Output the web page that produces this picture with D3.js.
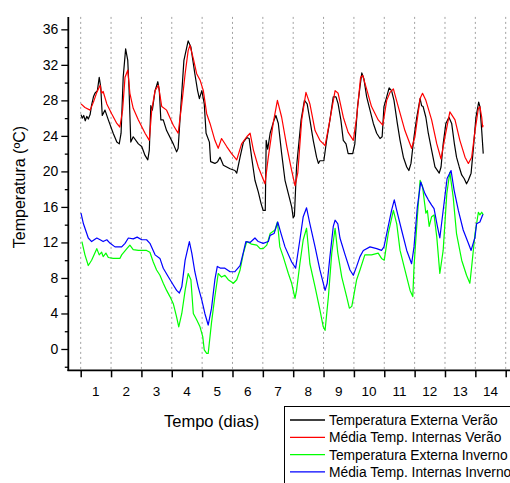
<!DOCTYPE html>
<html>
<head>
<meta charset="utf-8">
<script src="https://cdn.jsdelivr.net/npm/d3@7/dist/d3.min.js"></script>
<style>
  html, body { margin: 0; padding: 0; background: #fff; }
  svg { display: block; font-family: "Liberation Sans", Arial, sans-serif; }
</style>
</head>
<body>
<svg id="chart" width="510" height="483"></svg>
<script>
// ---- Data (day, temperature °C) ----
const extVerao = [[0.01,26.4],[0.05,26.0],[0.10,26.3],[0.15,25.7],[0.20,26.2],[0.25,25.9],[0.31,26.4],[0.36,27.5],[0.42,28.4],[0.47,28.8],[0.55,29.1],[0.61,30.6],[0.66,29.5],[0.71,26.3],[0.80,26.9],[0.91,25.8],[1.07,24.3],[1.19,23.3],[1.27,23.1],[1.33,24.3],[1.40,30.6],[1.48,33.8],[1.55,32.5],[1.59,29.5],[1.65,23.3],[1.73,23.9],[1.90,23.1],[2.01,22.8],[2.12,21.8],[2.21,21.3],[2.26,22.4],[2.31,27.4],[2.36,26.9],[2.45,29.1],[2.54,30.1],[2.59,29.1],[2.64,25.8],[2.72,25.8],[2.83,24.6],[3.05,23.1],[3.16,22.2],[3.21,22.6],[3.27,25.8],[3.40,32.5],[3.54,34.7],[3.63,34.0],[3.76,31.0],[3.85,29.1],[3.91,28.2],[3.99,29.1],[4.07,27.6],[4.13,24.3],[4.24,23.3],[4.28,21.1],[4.42,20.9],[4.51,21.1],[4.59,21.6],[4.70,20.7],[4.92,20.3],[5.08,20.1],[5.14,19.8],[5.25,21.6],[5.36,23.3],[5.47,23.8],[5.55,23.7],[5.63,21.6],[5.74,19.0],[5.85,17.7],[5.94,16.4],[6.01,15.6],[6.08,15.6],[6.11,23.5],[6.16,22.5],[6.24,24.3],[6.37,25.8],[6.43,26.3],[6.51,25.4],[6.62,22.0],[6.73,19.0],[6.84,17.5],[6.95,16.0],[7.00,14.8],[7.04,15.0],[7.11,20.5],[7.26,25.8],[7.37,28.0],[7.46,27.6],[7.55,25.8],[7.66,23.5],[7.77,21.6],[7.83,20.9],[7.88,21.2],[8.01,21.2],[8.10,23.5],[8.21,25.8],[8.32,28.4],[8.41,28.4],[8.48,27.6],[8.57,25.8],[8.65,23.5],[8.74,23.1],[8.81,22.0],[8.96,22.0],[9.03,23.1],[9.12,27.3],[9.20,29.5],[9.26,31.1],[9.33,30.4],[9.42,28.4],[9.53,26.9],[9.64,25.4],[9.75,24.3],[9.86,23.7],[9.93,23.9],[9.99,27.3],[10.08,28.4],[10.16,29.4],[10.24,29.1],[10.32,28.0],[10.43,25.4],[10.52,23.5],[10.63,21.6],[10.74,20.5],[10.81,20.1],[10.88,20.9],[10.98,23.9],[11.07,26.1],[11.18,28.2],[11.23,27.4],[11.28,27.3],[11.37,26.1],[11.45,24.3],[11.56,22.4],[11.67,20.5],[11.81,19.8],[11.87,20.5],[11.94,23.1],[12.03,25.4],[12.13,26.1],[12.22,25.4],[12.31,23.1],[12.38,21.6],[12.47,20.5],[12.55,19.6],[12.63,19.2],[12.71,18.6],[12.77,19.0],[12.86,19.8],[12.93,22.4],[13.02,26.1],[13.11,27.8],[13.15,27.3],[13.21,24.6],[13.26,22.0]];

const intVerao = [[0.01,27.6],[0.14,27.2],[0.31,26.9],[0.42,27.8],[0.53,28.9],[0.64,29.7],[0.69,28.8],[0.74,29.0],[0.86,27.6],[1.02,26.5],[1.19,25.4],[1.29,25.0],[1.38,26.9],[1.46,30.6],[1.55,31.4],[1.62,28.8],[1.73,27.1],[1.90,25.8],[2.12,24.3],[2.26,23.5],[2.34,26.9],[2.45,29.1],[2.56,29.7],[2.67,27.3],[2.83,26.9],[3.05,25.2],[3.21,24.3],[3.33,27.6],[3.44,31.0],[3.54,33.6],[3.60,34.2],[3.71,32.7],[3.82,31.0],[3.93,30.3],[4.04,29.1],[4.15,26.5],[4.26,25.4],[4.42,23.5],[4.53,22.6],[4.64,23.7],[4.81,22.8],[4.97,22.0],[5.14,21.3],[5.30,23.1],[5.47,23.9],[5.58,24.3],[5.69,22.4],[5.85,20.5],[6.07,18.6],[6.18,21.6],[6.34,25.4],[6.48,28.0],[6.62,26.1],[6.79,22.8],[6.95,20.1],[7.06,18.4],[7.15,19.8],[7.28,25.8],[7.42,28.9],[7.55,27.6],[7.72,24.6],[7.88,23.5],[8.05,22.9],[8.21,25.8],[8.38,29.1],[8.48,28.8],[8.65,26.1],[8.81,24.4],[8.98,23.5],[9.09,26.1],[9.22,30.6],[9.29,30.8],[9.40,29.5],[9.58,27.3],[9.80,25.8],[9.95,25.2],[10.08,28.0],[10.19,28.9],[10.30,29.3],[10.46,27.3],[10.68,24.6],[10.90,22.6],[11.01,23.9],[11.18,28.2],[11.26,28.8],[11.37,28.0],[11.56,25.8],[11.73,23.1],[11.87,21.4],[12.00,23.9],[12.16,26.7],[12.33,25.8],[12.49,23.5],[12.66,21.6],[12.77,20.9],[12.88,21.6],[12.99,24.6],[13.10,27.1],[13.15,27.3],[13.21,26.1],[13.24,25.0],[13.26,25.2]];

const extInverno = [[0.04,12.1],[0.14,10.6],[0.25,9.4],[0.36,10.0],[0.53,11.3],[0.61,10.6],[0.69,10.9],[0.74,10.4],[0.83,10.8],[0.91,10.3],[1.07,10.2],[1.29,10.2],[1.35,10.6],[1.52,11.3],[1.62,11.7],[1.73,11.2],[1.90,11.1],[2.17,11.1],[2.28,10.9],[2.39,9.8],[2.50,8.9],[2.61,8.3],[2.72,7.4],[2.83,6.6],[2.94,5.9],[3.05,5.1],[3.16,3.6],[3.23,2.5],[3.33,4.0],[3.44,6.6],[3.54,8.5],[3.63,7.8],[3.71,4.0],[3.82,3.3],[3.93,2.5],[4.02,1.4],[4.07,-0.1],[4.15,-0.5],[4.20,-0.5],[4.31,3.0],[4.42,5.9],[4.53,8.5],[4.64,8.1],[4.75,8.3],[4.86,7.8],[5.03,7.4],[5.14,7.8],[5.25,8.9],[5.36,10.8],[5.47,12.1],[5.63,11.8],[5.80,11.7],[5.91,11.3],[6.01,11.3],[6.13,11.7],[6.24,13.0],[6.40,13.4],[6.48,14.3],[6.56,11.5],[6.67,10.4],[6.84,8.5],[6.95,7.4],[7.06,5.7],[7.11,6.6],[7.22,9.6],[7.33,12.3],[7.44,13.6],[7.55,9.6],[7.72,7.0],[7.88,4.4],[7.99,2.5],[8.05,2.1],[8.16,5.9],[8.27,10.8],[8.38,13.6],[8.47,10.8],[8.60,8.1],[8.76,5.9],[8.85,4.6],[8.93,4.8],[9.00,6.1],[9.09,7.8],[9.20,8.9],[9.36,10.6],[9.58,10.6],[9.80,10.8],[9.91,10.2],[10.00,10.0],[10.13,13.0],[10.30,15.6],[10.41,14.1],[10.52,11.1],[10.68,8.9],[10.85,6.6],[10.94,5.9],[10.98,9.3],[11.09,14.9],[11.18,19.0],[11.26,18.3],[11.37,15.3],[11.42,15.6],[11.48,13.8],[11.56,14.9],[11.64,15.1],[11.73,12.6],[11.83,8.5],[11.94,11.1],[12.06,17.5],[12.16,19.9],[12.27,17.1],[12.38,13.0],[12.55,10.0],[12.71,8.3],[12.82,7.4],[12.88,9.3],[12.99,13.0],[13.10,15.4],[13.15,15.1],[13.21,15.4],[13.26,15.1]];

const intInverno = [[0.01,15.3],[0.09,14.1],[0.25,12.5],[0.36,12.1],[0.53,12.5],[0.64,12.3],[0.74,12.1],[0.86,12.3],[0.97,11.9],[1.13,11.5],[1.35,11.5],[1.46,11.9],[1.57,12.5],[1.73,12.4],[1.86,12.6],[2.01,12.3],[2.17,12.3],[2.28,11.9],[2.45,10.6],[2.61,10.2],[2.72,9.1],[2.89,8.1],[3.05,7.2],[3.16,6.6],[3.25,6.3],[3.33,7.0],[3.44,10.0],[3.58,12.1],[3.66,10.8],[3.76,8.7],[3.87,7.0],[3.99,5.5],[4.09,4.0],[4.20,2.7],[4.31,4.6],[4.42,7.8],[4.50,9.3],[4.61,9.1],[4.75,9.1],[4.92,8.7],[5.08,8.7],[5.25,9.4],[5.36,10.9],[5.44,12.1],[5.58,12.0],[5.74,12.5],[5.85,12.1],[6.01,11.9],[6.18,12.1],[6.24,12.8],[6.37,13.0],[6.49,14.3],[6.60,13.0],[6.73,11.5],[6.95,9.8],[7.08,9.1],[7.22,12.3],[7.33,14.9],[7.44,15.9],[7.55,14.1],[7.72,11.5],[7.88,8.9],[8.05,6.6],[8.12,7.4],[8.21,10.4],[8.32,13.8],[8.38,14.5],[8.47,14.1],[8.54,12.5],[8.71,10.6],[8.87,8.9],[8.98,8.3],[9.09,9.3],[9.20,10.4],[9.31,11.1],[9.53,11.5],[9.75,11.3],[9.91,11.1],[9.99,11.5],[10.13,13.8],[10.24,15.6],[10.33,16.8],[10.41,15.6],[10.57,13.4],[10.74,11.1],[10.90,9.6],[10.98,11.5],[11.09,16.0],[11.20,18.8],[11.34,17.5],[11.45,16.8],[11.56,16.2],[11.64,15.8],[11.75,13.8],[11.83,12.5],[11.94,15.6],[12.07,19.2],[12.20,20.1],[12.30,17.9],[12.44,15.6],[12.60,13.4],[12.77,11.9],[12.86,11.1],[12.99,12.6],[13.04,14.1],[13.15,14.3],[13.24,15.1],[13.26,15.1]];

const dayLabels = ["1","2","3","4","5","6","7","8","9","10","11","12","13","14"];
const yMajorTicks = [0,4,8,12,16,20,24,28,32,36];
const yMinorTicks = [-2,2,6,10,14,18,22,26,30,34];
const seriesNames = ["Temperatura Externa Verão","Média Temp. Internas Verão","Temperatura Externa Inverno","Média Temp. Internas Inverno"];
const seriesColors = ["#000000","#ff0000","#00ff00","#0000ff"];
const seriesData = [extVerao, intVerao, extInverno, intInverno];

// ---- Layout ----
const svg = d3.select("#chart");
const x = d3.scaleLinear().domain([0, 14]).range([80.7, 505.7]);
const y = d3.scaleLinear().domain([-2.4, 37.4]).range([370.3, 16.9]);
const axisX0 = 68.3, axisY0 = 370.3;

// dotted vertical grid
svg.append("g").selectAll("line")
  .data(d3.range(0, 15))
  .join("line")
  .attr("x1", d => x(d)).attr("x2", d => x(d))
  .attr("y1", y(37.4)).attr("y2", axisY0)
  .attr("stroke", "#a0a0a0").attr("stroke-width", 1)
  .attr("stroke-dasharray", "2,3");

// series lines
const line = d3.line().x(d => x(d[0])).y(d => y(d[1]));
svg.append("g").selectAll("path")
  .data(seriesData)
  .join("path")
  .attr("d", d => line(d))
  .attr("fill", "none")
  .attr("stroke", (d, i) => seriesColors[i])
  .attr("stroke-width", 1.2)
  .attr("stroke-linejoin", "round");

// y axis
const yAxis = d3.axisLeft(y).tickValues(yMajorTicks).tickSize(7).tickPadding(3).tickFormat(d3.format("d"));
const gy = svg.append("g").attr("transform", `translate(${axisX0},0)`).call(yAxis);
gy.select(".domain").remove();
gy.selectAll(".tick line").attr("stroke", "#000").attr("stroke-width", 1.3);
gy.selectAll(".tick text").attr("font-size", 14).attr("fill", "#000")
  .attr("font-family", "Liberation Sans, Arial, sans-serif");
const yMinorAxis = d3.axisLeft(y).tickValues(yMinorTicks).tickSize(3.5).tickFormat("");
const gym = svg.append("g").attr("transform", `translate(${axisX0},0)`).call(yMinorAxis);
gym.select(".domain").remove();
gym.selectAll(".tick line").attr("stroke", "#000").attr("stroke-width", 1.3);
svg.append("line").attr("x1", axisX0).attr("x2", axisX0)
  .attr("y1", y(37.4)).attr("y2", axisY0 + 0.8)
  .attr("stroke", "#000").attr("stroke-width", 1.8);

// x axis
const xAxis = d3.axisBottom(x).tickValues(d3.range(0, 15)).tickSize(7).tickFormat("");
const gx = svg.append("g").attr("transform", `translate(0,${axisY0})`).call(xAxis);
gx.select(".domain").remove();
gx.selectAll(".tick line").attr("stroke", "#000").attr("stroke-width", 1.5);
svg.append("line").attr("x1", axisX0 - 0.8).attr("x2", 512)
  .attr("y1", axisY0).attr("y2", axisY0)
  .attr("stroke", "#000").attr("stroke-width", 1.8);
svg.append("g").selectAll("text")
  .data(dayLabels)
  .join("text")
  .attr("x", (d, i) => x(i + 0.5))
  .attr("y", 395.5)
  .attr("text-anchor", "middle")
  .attr("font-size", 13.5)
  .attr("fill", "#000")
  .text(d => d);

// axis titles
svg.append("text")
  .attr("transform", "translate(25,187) rotate(-90)")
  .attr("text-anchor", "middle")
  .attr("font-size", 16)
  .attr("fill", "#000")
  .text("Temperatura (ºC)");
svg.append("text")
  .attr("x", 211.7).attr("y", 426.5)
  .attr("text-anchor", "middle")
  .attr("font-size", 16.5)
  .attr("fill", "#000")
  .text("Tempo (dias)");

// legend
const lg = svg.append("g");
lg.append("rect").attr("x", 284.5).attr("y", 406.5).attr("width", 260).attr("height", 100)
  .attr("fill", "#fff").attr("stroke", "#000").attr("stroke-width", 1);
const rows = lg.selectAll("g.row").data(seriesNames).join("g").attr("class", "row")
  .attr("transform", (d, i) => `translate(0,${420 + i * 17.3})`);
rows.append("line").attr("x1", 290).attr("x2", 325).attr("y1", 0).attr("y2", 0)
  .attr("stroke", (d, i) => seriesColors[i]).attr("stroke-width", 1.3);
rows.append("text").attr("x", 329).attr("y", 5)
  .attr("font-size", 13.8).attr("fill", "#000")
  .text(d => d);
</script>
</body>
</html>
